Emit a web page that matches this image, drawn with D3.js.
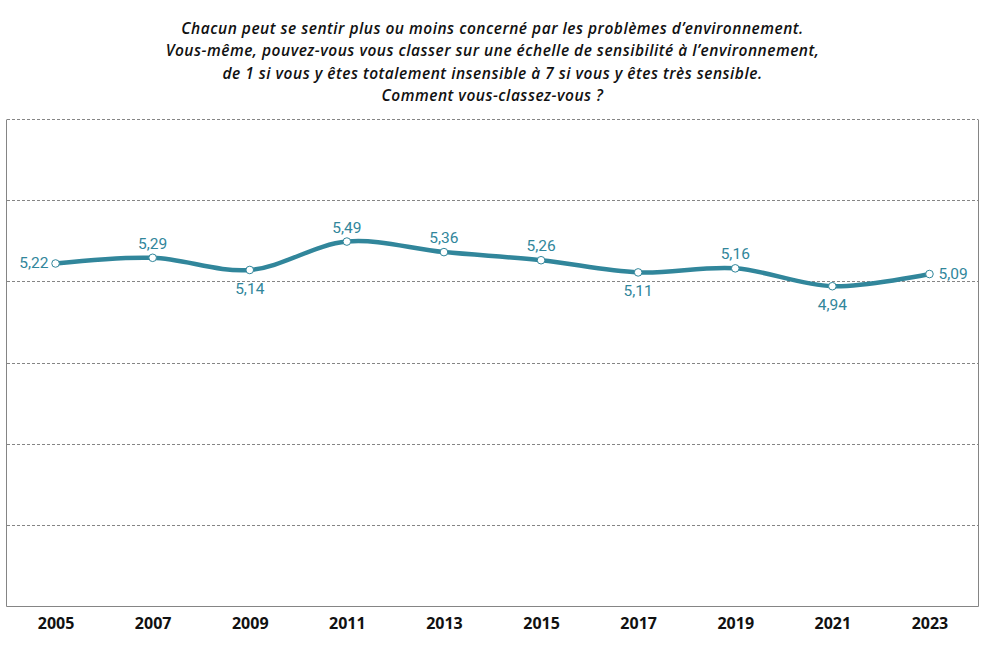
<!DOCTYPE html>
<html>
<head>
<meta charset="utf-8">
<script src="https://cdn.jsdelivr.net/npm/d3@7"></script>
<style>
  body { margin: 0; background: #fff; }
  svg { display: block; }
</style>
</head>
<body>
<div id="chart"></div>
<script>
var years = ["2005", "2007", "2009", "2011", "2013", "2015", "2017", "2019", "2021", "2023"];
var scores = [5.22, 5.29, 5.14, 5.49, 5.36, 5.26, 5.11, 5.16, 4.94, 5.09];
// where each value label sits relative to its point
var labelPos = ["left", "above", "below", "above", "above", "above", "below", "above", "below", "right"];
var titleLines = [
    "Chacun peut se sentir plus ou moins concerné par les problèmes d’environnement.",
    "Vous-même, pouvez-vous vous classer sur une échelle de sensibilité à l’environnement,",
    "de 1 si vous y êtes totalement insensible à 7 si vous y êtes très sensible.",
    "Comment vous-classez-vous ?"
];
var yTicks = [1, 2, 3, 4, 5, 6, 7];

var width = 985;
var height = 650;
var margin = {top: 119, right: 7, bottom: 44, left: 7};
var teal = "#31869b";

var svg = d3.select("#chart").append("svg")
    .attr("width", width)
    .attr("height", height);

var x = d3.scalePoint()
    .domain(years)
    .range([margin.left, width - margin.right])
    .padding(0.5);

var y = d3.scaleLinear()
    .domain([1, 7])
    .range([height - margin.bottom, margin.top]);

// title
svg.append("g")
    .selectAll("text")
    .data(titleLines)
    .join("text")
    .attr("x", width / 2)
    .attr("y", (d, i) => 33.5 + i * 22.5)
    .attr("text-anchor", "middle")
    .style("font-family", "'Open Sans', Lato, sans-serif")
    .style("font-style", "italic")
    .style("font-weight", 600)
    .style("font-size", "15.5px")
    .style("letter-spacing", "0.5px")
    .attr("fill", "#111")
    .text(d => d);

// dashed gridlines
svg.append("g")
    .selectAll("line")
    .data(yTicks.slice(1))
    .join("line")
    .attr("x1", margin.left)
    .attr("x2", width - margin.right)
    .attr("y1", d => Math.round(y(d)) + 0.5)
    .attr("y2", d => Math.round(y(d)) + 0.5)
    .attr("stroke", "#858585")
    .attr("stroke-width", 1)
    .attr("stroke-dasharray", "3,2");

// frame: left, right, bottom
var x0 = margin.left, x1 = width - margin.right;
var yb = Math.round(y(1)) + 0.5, yt = Math.round(y(7)) + 0.5;
svg.append("path")
    .attr("d", "M" + (x0 - 0.5) + "," + yt + "V" + yb + "H" + (x1 + 0.5) + "V" + yt)
    .attr("fill", "none")
    .attr("stroke", "#858585")
    .attr("stroke-width", 1);

// x axis labels
svg.append("g")
    .attr("transform", "translate(0," + (height - margin.bottom) + ")")
    .call(d3.axisBottom(x).tickSize(0).tickPadding(12))
    .call(g => g.select(".domain").remove())
    .selectAll("text")
    .style("font-family", "'Open Sans', sans-serif")
    .style("font-weight", 700)
    .style("font-size", "16px")
    .attr("fill", "#111");

var data = years.map((d, i) => ({year: d, value: scores[i], pos: labelPos[i]}));

var line = d3.line()
    .x(d => x(d.year))
    .y(d => y(d.value))
    .curve(d3.curveCatmullRom.alpha(0.5));

svg.append("path")
    .datum(data)
    .attr("d", line)
    .attr("fill", "none")
    .attr("stroke", teal)
    .attr("stroke-width", 4.5)
    .attr("stroke-linejoin", "round");

svg.append("g")
    .selectAll("circle")
    .data(data)
    .join("circle")
    .attr("cx", d => x(d.year))
    .attr("cy", d => y(d.value))
    .attr("r", 3.8)
    .attr("fill", "#fff")
    .attr("stroke", teal)
    .attr("stroke-width", 1);

var fmt = v => d3.format(".2f")(v).replace(".", ",");

svg.append("g")
    .selectAll("text")
    .data(data)
    .join("text")
    .attr("x", d => x(d.year) + (d.pos === "left" ? -7 : d.pos === "right" ? 9 : 0))
    .attr("y", d => y(d.value) + (d.pos === "above" ? -9 : d.pos === "below" ? 24 : 5))
    .attr("text-anchor", d => d.pos === "left" ? "end" : d.pos === "right" ? "start" : "middle")
    .style("font-family", "Roboto, 'Open Sans', sans-serif")
    .style("font-size", "15.5px")
    .attr("fill", teal)
    .text(d => fmt(d.value));
</script>
</body>
</html>
